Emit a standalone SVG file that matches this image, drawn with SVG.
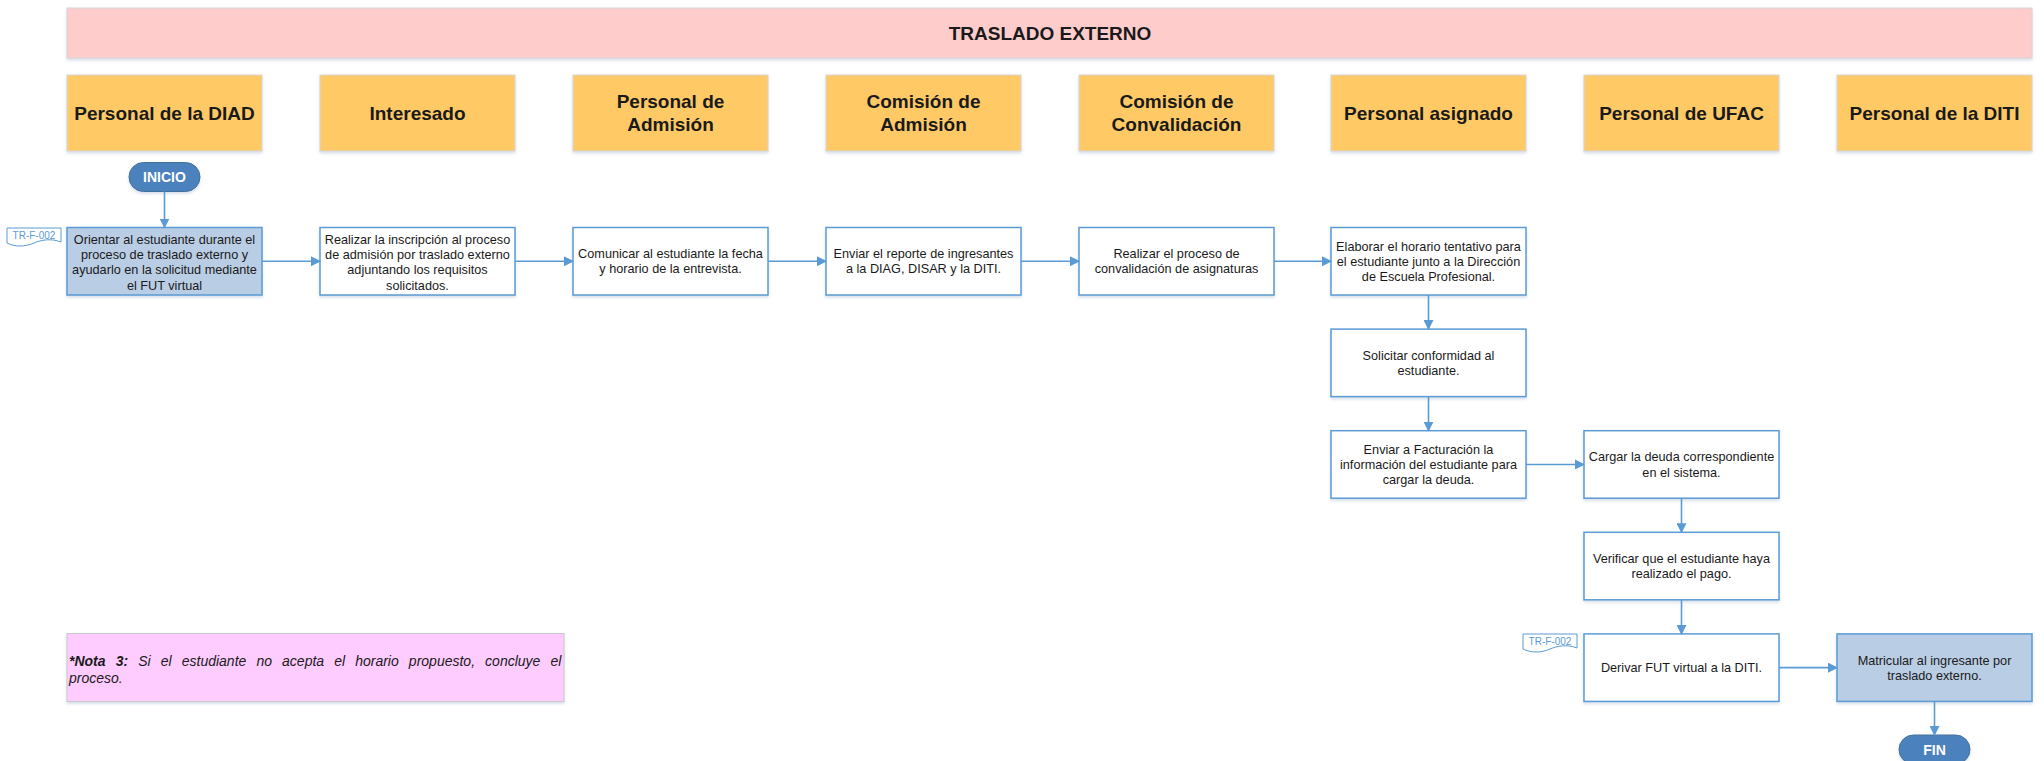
<svg xmlns="http://www.w3.org/2000/svg" width="2044" height="761" viewBox="0 0 2044 761">
  <defs>
    <filter id="soft" x="-5%" y="-10%" width="110%" height="130%">
      <feDropShadow dx="0" dy="2" stdDeviation="1.5" flood-color="#7f97b8" flood-opacity="0.3"/>
    </filter>
    <marker id="arrow" markerWidth="10" markerHeight="10" refX="9" refY="5" orient="auto" markerUnits="userSpaceOnUse">
      <path d="M0,0 L10,5 L0,10 Z" fill="#5B9BD5"/>
    </marker>
  </defs>
  <style>
    text { font-family: "Liberation Sans", Arial, sans-serif; fill: #1a1a1a; }
    .title { font-size: 19px; font-weight: bold; text-anchor: middle; }
    .lane rect { fill: #FFCA66; stroke: #d6d6d6; stroke-width: 1; filter: url(#soft); }
    .lane text { font-size: 19px; font-weight: bold; text-anchor: middle; }
    .task rect { fill: #ffffff; stroke: #5B9BD5; stroke-width: 1.5; filter: url(#soft); }
    .task.hl rect { fill: #B9CDE5; }
    .task text { font-size: 12.7px; text-anchor: middle; }
    .pill rect { fill: #4C82BE; stroke: #41719C; stroke-width: 1; filter: url(#soft); }
    .pill text { font-size: 14px; font-weight: bold; fill: #ffffff; text-anchor: middle; }
    .tag path { fill: #ffffff; stroke: #5B9BD5; stroke-width: 1; }
    .tag text { font-size: 10px; fill: #5B9BD5; text-anchor: middle; }
    .note rect { fill: #FFCCFF; stroke: #c8c8c8; stroke-width: 1; filter: url(#soft); }
    .note text { font-size: 14px; font-style: italic; }
    #connectors path { fill: none; stroke: #5B9BD5; stroke-width: 1.6; marker-end: url(#arrow); }
  </style>

  <!-- process title -->
  <g id="title">
    <rect x="67" y="8" width="1965" height="50" fill="#FFCCCC" stroke="#d6d6d6" stroke-width="1" filter="url(#soft)"/>
    <text class="title" x="1050" y="40">TRASLADO EXTERNO</text>
  </g>

  <!-- swimlane headers -->
  <g id="lane-diad" class="lane"><rect x="67" y="75" width="195" height="76"/><text x="164.5" y="120">Personal de la DIAD</text></g>
  <g id="lane-interesado" class="lane"><rect x="320" y="75" width="195" height="76"/><text x="417.5" y="120">Interesado</text></g>
  <g id="lane-admision" class="lane"><rect x="573" y="75" width="195" height="76"/><text x="670.5" y="107.5">Personal de</text><text x="670.5" y="130.5">Admisión</text></g>
  <g id="lane-comision-admision" class="lane"><rect x="826" y="75" width="195" height="76"/><text x="923.5" y="107.5">Comisión de</text><text x="923.5" y="130.5">Admisión</text></g>
  <g id="lane-convalidacion" class="lane"><rect x="1079" y="75" width="195" height="76"/><text x="1176.5" y="107.5">Comisión de</text><text x="1176.5" y="130.5">Convalidación</text></g>
  <g id="lane-asignado" class="lane"><rect x="1331" y="75" width="195" height="76"/><text x="1428.5" y="120">Personal asignado</text></g>
  <g id="lane-ufac" class="lane"><rect x="1584" y="75" width="195" height="76"/><text x="1681.5" y="120">Personal de UFAC</text></g>
  <g id="lane-diti" class="lane"><rect x="1837" y="75" width="195" height="76"/><text x="1934.5" y="120">Personal de la DITI</text></g>

  <!-- start / end -->
  <g id="inicio" class="pill"><rect x="129" y="162.5" width="71" height="29" rx="14.5"/><text x="164.5" y="182">INICIO</text></g>
  <g id="fin" class="pill"><rect x="1899" y="735" width="71" height="29" rx="14.5"/><text x="1934.5" y="754.5">FIN</text></g>

  <!-- document tags -->
  <g id="tag-1" class="tag"><path d="M7,228 H61 V242 C51,238 41,240 34,243 C25,247 15,247 7,243 Z"/><text x="34" y="239">TR-F-002</text></g>
  <g id="tag-2" class="tag"><path d="M1523,634 H1577 V648 C1567,644 1557,646 1550,649 C1541,653 1531,653 1523,649 Z"/><text x="1550" y="645">TR-F-002</text></g>

  <!-- activities -->
  <g id="t1" class="task hl"><rect x="67" y="227.5" width="195" height="67.5"/>
    <text x="164.5" y="243.8">Orientar al estudiante durante el</text>
    <text x="164.5" y="259.1">proceso de traslado externo y</text>
    <text x="164.5" y="274.4">ayudarlo en la solicitud mediante</text>
    <text x="164.5" y="289.7">el FUT virtual</text></g>
  <g id="t2" class="task"><rect x="320" y="227.5" width="195" height="67.5"/>
    <text x="417.5" y="243.8">Realizar la inscripción al proceso</text>
    <text x="417.5" y="259.1">de admisión por traslado externo</text>
    <text x="417.5" y="274.4">adjuntando los requisitos</text>
    <text x="417.5" y="289.7">solicitados.</text></g>
  <g id="t3" class="task"><rect x="573" y="227.5" width="195" height="67.5"/>
    <text x="670.5" y="258.1">Comunicar al estudiante la fecha</text>
    <text x="670.5" y="273.4">y horario de la entrevista.</text></g>
  <g id="t4" class="task"><rect x="826" y="227.5" width="195" height="67.5"/>
    <text x="923.5" y="258.1">Enviar el reporte de ingresantes</text>
    <text x="923.5" y="273.4">a la DIAG, DISAR y la DITI.</text></g>
  <g id="t5" class="task"><rect x="1079" y="227.5" width="195" height="67.5"/>
    <text x="1176.5" y="258.1">Realizar el proceso de</text>
    <text x="1176.5" y="273.4">convalidación de asignaturas</text></g>
  <g id="t6" class="task"><rect x="1331" y="227.5" width="195" height="67.5"/>
    <text x="1428.5" y="250.5">Elaborar el horario tentativo para</text>
    <text x="1428.5" y="265.8">el estudiante junto a la Dirección</text>
    <text x="1428.5" y="281.1">de Escuela Profesional.</text></g>
  <g id="t7" class="task"><rect x="1331" y="329.1" width="195" height="67.5"/>
    <text x="1428.5" y="359.7">Solicitar conformidad al</text>
    <text x="1428.5" y="375">estudiante.</text></g>
  <g id="t8" class="task"><rect x="1331" y="430.7" width="195" height="67.5"/>
    <text x="1428.5" y="453.7">Enviar a Facturación la</text>
    <text x="1428.5" y="469">información del estudiante para</text>
    <text x="1428.5" y="484.3">cargar la deuda.</text></g>
  <g id="t9" class="task"><rect x="1584" y="430.7" width="195" height="67.5"/>
    <text x="1681.5" y="461.3">Cargar la deuda correspondiente</text>
    <text x="1681.5" y="476.6">en el sistema.</text></g>
  <g id="t10" class="task"><rect x="1584" y="532.3" width="195" height="67.5"/>
    <text x="1681.5" y="562.9">Verificar que el estudiante haya</text>
    <text x="1681.5" y="578.2">realizado el pago.</text></g>
  <g id="t11" class="task"><rect x="1584" y="633.9" width="195" height="67.5"/>
    <text x="1681.5" y="672.1">Derivar FUT virtual a la DITI.</text></g>
  <g id="t12" class="task hl"><rect x="1837" y="633.9" width="195" height="67.5"/>
    <text x="1934.5" y="664.5">Matricular al ingresante por</text>
    <text x="1934.5" y="679.8">traslado externo.</text></g>

  <!-- note (first line justified through word spacing) -->
  <g id="nota" class="note">
    <rect x="67" y="633.5" width="497" height="68"/>
    <text x="69" y="666" word-spacing="6.2"><tspan font-weight="bold">*Nota 3:</tspan> Si el estudiante no acepta el horario propuesto, concluye el</text>
    <text x="69" y="683">proceso.</text>
  </g>

  <!-- flow connectors -->
  <g id="connectors">
    <path d="M164.5,191.5 V227.5"/>
    <path d="M262,261.25 H320"/>
    <path d="M515,261.25 H573"/>
    <path d="M768,261.25 H826"/>
    <path d="M1021,261.25 H1079"/>
    <path d="M1274,261.25 H1331"/>
    <path d="M1428.5,295 V329.1"/>
    <path d="M1428.5,396.6 V430.7"/>
    <path d="M1526,464.45 H1584"/>
    <path d="M1681.5,498.2 V532.3"/>
    <path d="M1681.5,599.8 V633.9"/>
    <path d="M1779,667.65 H1837"/>
    <path d="M1934.5,701.4 V735"/>
  </g>
</svg>
